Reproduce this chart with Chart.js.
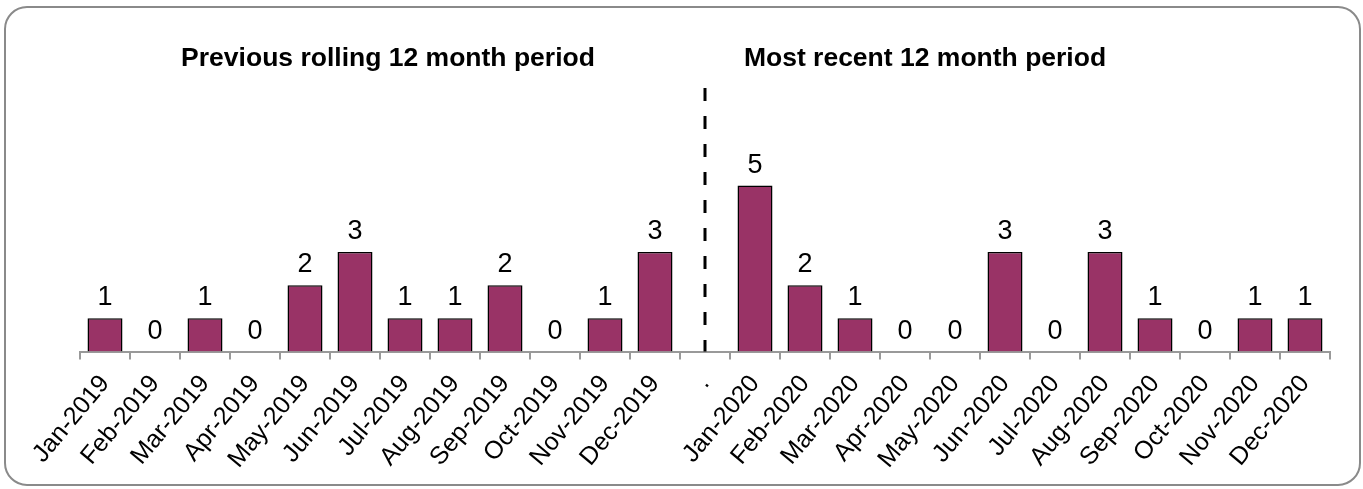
<!DOCTYPE html>
<html>
<head>
<meta charset="utf-8">
<script src="https://cdn.jsdelivr.net/npm/chart.js@4.4.0/dist/chart.umd.min.js"></script>
<style>
    html, body { margin: 0; padding: 0; background: #fff; }
    #wrap { width: 1363px; height: 489px; position: relative; }
</style>
</head>
<body>
<div id="wrap"><canvas id="incidentsChart"></canvas></div>
<script>
'use strict';

const categories = [
    'Jan-2019', 'Feb-2019', 'Mar-2019', 'Apr-2019', 'May-2019', 'Jun-2019',
    'Jul-2019', 'Aug-2019', 'Sep-2019', 'Oct-2019', 'Nov-2019', 'Dec-2019',
    '.',
    'Jan-2020', 'Feb-2020', 'Mar-2020', 'Apr-2020', 'May-2020', 'Jun-2020',
    'Jul-2020', 'Aug-2020', 'Sep-2020', 'Oct-2020', 'Nov-2020', 'Dec-2020'
];
const counts = [
    1, 0, 1, 0, 2, 3, 1, 1, 2, 0, 1, 3,
    null,
    5, 2, 1, 0, 0, 3, 0, 3, 1, 0, 1, 1
];
const periodTitles = ['Previous rolling 12 month period', 'Most recent 12 month period'];
const dividerIndex = 12;

const FONT = '"Liberation Sans", Arial, sans-serif';

// frame, period headings, dashed divider and value labels
const extras = {
    id: 'extras',
    beforeDraw(chart) {
        const ctx = chart.ctx;
        ctx.save();
        ctx.strokeStyle = '#8a8a8a';
        ctx.lineWidth = 2;
        ctx.beginPath();
        ctx.roundRect(5, 7, 1355, 478, 22);
        ctx.stroke();
        ctx.restore();
    },
    afterDatasetsDraw(chart) {
        const ctx = chart.ctx;
        const x = chart.scales.x;
        const y = chart.scales.y;
        const area = chart.chartArea;

        ctx.save();
        ctx.fillStyle = '#000';
        ctx.font = 'bold 26.5px ' + FONT;
        ctx.textAlign = 'center';
        ctx.textBaseline = 'middle';
        ctx.fillText(periodTitles[0], x.getPixelForValue(5.5) + 8, 59);
        ctx.fillText(periodTitles[1], x.getPixelForValue(16.4), 59);

        ctx.strokeStyle = '#000';
        ctx.lineWidth = 3;
        ctx.setLineDash([13, 15]);
        const dx = x.getPixelForValue(dividerIndex);
        ctx.beginPath();
        ctx.moveTo(dx, area.top + 2);
        ctx.lineTo(dx, area.bottom);
        ctx.stroke();
        ctx.setLineDash([]);

        ctx.font = '27px ' + FONT;
        ctx.textBaseline = 'alphabetic';
        chart.getDatasetMeta(0).data.forEach((bar, i) => {
            if (counts[i] === null) return;
            ctx.fillText(String(counts[i]), bar.x, y.getPixelForValue(counts[i]) - 13);
        });
        ctx.restore();
    }
};

new Chart(document.querySelector('#incidentsChart'), {
    type: 'bar',
    data: {
        labels: categories,
        datasets: [
            {
                data: counts,
                backgroundColor: '#993366',
                borderColor: '#000',
                borderWidth: 1.5,
                barPercentage: 0.7,
                categoryPercentage: 1
            }
        ]
    },
    options: {
        responsive: true,
        maintainAspectRatio: false,
        animation: false,
        layout: { padding: { top: 86, left: 80, right: 33, bottom: 5 } },
        plugins: {
            legend: { display: false },
            tooltip: { enabled: false }
        },
        scales: {
            x: {
                offset: true,
                grid: {
                    offset: true,
                    drawOnChartArea: false,
                    drawTicks: true,
                    tickLength: 8,
                    color: '#999',
                    lineWidth: 2
                },
                border: { color: '#999', width: 2 },
                ticks: {
                    color: '#000',
                    font: { family: FONT, size: 25 },
                    minRotation: 50,
                    maxRotation: 50,
                    autoSkip: false,
                    padding: 10
                }
            },
            y: {
                display: false,
                min: 0,
                max: 8
            }
        }
    },
    plugins: [extras]
});
</script>
</body>
</html>
